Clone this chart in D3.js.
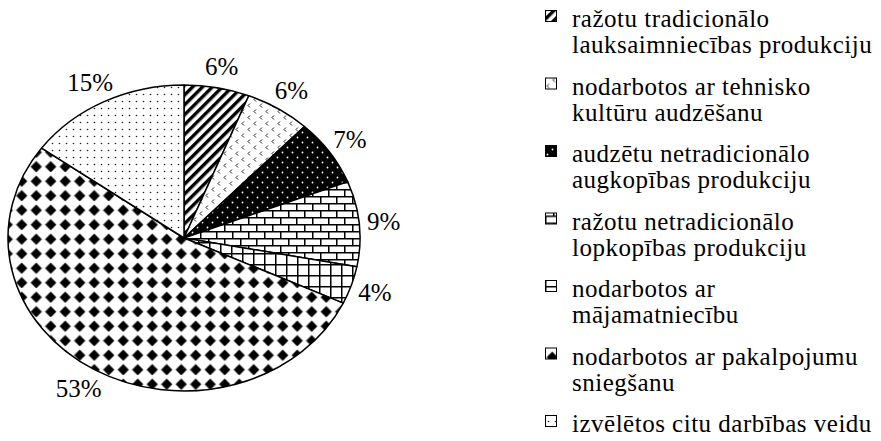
<!DOCTYPE html>
<html lang="lv">
<head>
  <meta charset="UTF-8">
  <title>pie</title>
  <style>
    body { margin: 0; background: #fff; }
    text { font-family: "Liberation Serif", "Times New Roman", serif; fill: #000; }
  </style>
</head>
<body>
  <svg width="881" height="441"></svg>

  <script src="https://d3js.org/d3.v7.min.js"></script>
  <script>
  // data
  var categories = [
    "ražotu tradicionālo\nlauksaimniecības produkciju",
    "nodarbotos ar tehnisko\nkultūru audzēšanu",
    "audzētu netradicionālo\naugkopības produkciju",
    "ražotu netradicionālo\nlopkopības produkciju",
    "nodarbotos ar\nmājamatniecību",
    "nodarbotos ar pakalpojumu\nsniegšanu",
    "izvēlētos citu darbības veidu"
  ];
  var values = [6, 6, 7, 9, 4, 53, 15];
  var valueLabels = values.map(function(v) { return v + "%"; });

  var svg = d3.select("svg");
  var cx = 184, cy = 238, rx = 176, ry = 153;

  // fill patterns (black & white, like the print original)
  var defs = svg.append("defs");
  function pat(id, w, h) {
    var p = defs.append("pattern").attr("id", id)
      .attr("patternUnits", "userSpaceOnUse")
      .attr("width", w).attr("height", h);
    p.append("rect").attr("width", w).attr("height", h).attr("fill", "#fff");
    return p;
  }
  // 0 diagonal stripes
  var p0 = pat("pat0", 7, 7).attr("patternTransform", "rotate(45)");
  p0.append("rect").attr("x", 0).attr("width", 3.4).attr("height", 7).attr("fill", "#000");
  // 1 small chevrons
  var p1 = pat("pat1", 12, 12);
  p1.append("path").attr("d", "M4,1.5 L2,3.5 L4,5.5 M10,7.5 L8,9.5 L10,11.5")
    .attr("fill", "none").attr("stroke", "#222").attr("stroke-width", 1);
  // 2 black with white dots
  var p2 = pat("pat2", 10, 10);
  p2.select("rect").attr("fill", "#000");
  p2.append("circle").attr("cx", 2.5).attr("cy", 2.5).attr("r", 0.9).attr("fill", "#fff");
  p2.append("circle").attr("cx", 7.5).attr("cy", 7.5).attr("r", 0.9).attr("fill", "#fff");
  // 3 brick
  var p3 = pat("pat3", 16, 14);
  p3.append("path").attr("d", "M0,0.75H16M0,7.75H16M0.75,0V7M8.75,7V14")
    .attr("stroke", "#000").attr("stroke-width", 1.5).attr("fill", "none");
  // 4 grid
  var p4 = pat("pat4", 11, 11);
  p4.append("path").attr("d", "M0,0.75H11M0.75,0V11")
    .attr("stroke", "#000").attr("stroke-width", 1.5).attr("fill", "none");
  // 5 diamonds
  var p5 = pat("pat5", 14.5, 14.5);
  p5.append("path").attr("d", "M7.25,2L12.5,7.25L7.25,12.5L2,7.25Z")
    .attr("fill", "#000").attr("stroke", "#000").attr("stroke-width", 0.8).attr("stroke-linejoin", "round");
  // 6 sparse dots
  var p6 = pat("pat6", 7, 7);
  p6.append("circle").attr("cx", 3.5).attr("cy", 3.5).attr("r", 0.8).attr("fill", "#222");

  // pie angles from d3, drawn on an ellipse
  var pie = d3.pie().sort(null).value(function(d) { return d; });
  var arcs = pie(values);

  function pt(a, kx, ky) {
    return [cx + (rx + kx) * Math.sin(a), cy - (ry + ky) * Math.cos(a)];
  }
  function slicePath(d) {
    var s = pt(d.startAngle, 0, 0), e = pt(d.endAngle, 0, 0);
    var large = d.endAngle - d.startAngle > Math.PI ? 1 : 0;
    return "M" + cx + "," + cy + "L" + s[0] + "," + s[1] +
      "A" + rx + "," + ry + " 0 " + large + " 1 " + e[0] + "," + e[1] + "Z";
  }

  svg.append("g").selectAll("path")
    .data(arcs)
    .enter()
    .append("path")
    .attr("d", slicePath)
    .attr("fill", function(d, i) { return "url(#pat" + i + ")"; })
    .attr("stroke", "#000")
    .attr("stroke-width", 1.5)
    .attr("stroke-linejoin", "round");

  // percentage labels outside the edge
  var lab = svg.append("g").selectAll("text")
    .data(arcs)
    .enter()
    .append("text")
    .attr("font-size", 25)
    .attr("text-anchor", "middle")
    .text(function(d, i) { return valueLabels[i]; });

  lab.each(function(d) {
    var a = (d.startAngle + d.endAngle) / 2;
    var w = this.getComputedTextLength(), h = 28, off = 8;
    var p = pt(a, off, off);
    var x = p[0] + Math.sin(a) * w / 2;
    var y = p[1] - Math.cos(a) * h / 2;
    d3.select(this).attr("x", x).attr("y", y + 8.5);
  });

  // legend
  var lx = 545, ly = 27, pitch = 67.5, lineH = 26;
  var leg = svg.append("g").selectAll("g")
    .data(categories)
    .enter()
    .append("g")
    .attr("transform", function(d, i) { return "translate(" + lx + "," + (ly + i * pitch) + ")"; });

  leg.append("rect")
    .attr("x", 0.5).attr("y", -16.5)
    .attr("width", 11).attr("height", 11)
    .attr("fill", function(d, i) { return "url(#pat" + i + ")"; })
    .attr("stroke", "#000").attr("stroke-width", 1);

  leg.append("text")
    .attr("font-size", 25)
    .attr("letter-spacing", 0.5)
    .selectAll("tspan")
    .data(function(d) { return d.split("\n"); })
    .enter()
    .append("tspan")
    .attr("x", 27)
    .attr("y", function(d, j) { return j * lineH; })
    .text(function(d) { return d; });
  </script>
</body>
</html>
